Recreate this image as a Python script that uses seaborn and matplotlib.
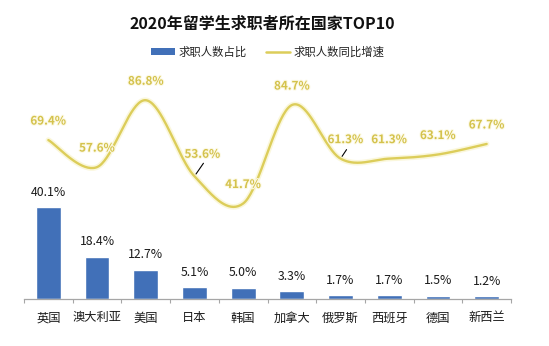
import numpy as np
import pandas as pd
import matplotlib
matplotlib.use("Agg")
import matplotlib.pyplot as plt
import matplotlib.patheffects as pe
from matplotlib.patches import Patch
from matplotlib.lines import Line2D
import seaborn as sns

countries = ["英国", "澳大利亚", "美国", "日本", "韩国", "加拿大", "俄罗斯", "西班牙", "德国", "新西兰"]
share = [40.1, 18.4, 12.7, 5.1, 5.0, 3.3, 1.7, 1.7, 1.5, 1.2]
growth = [69.4, 57.6, 86.8, 53.6, 41.7, 84.7, 61.3, 61.3, 63.1, 67.7]

BAR_COLOR = "#4170B8"
LINE_COLOR = "#DCCD5A"
GLOW_COLOR = "#F8F2C4"
LABEL_COLOR = "#D4C24C"

sns.set_theme(style="white")
plt.rcParams["font.family"] = ["Noto Sans CJK SC", "DejaVu Sans"]

fig = plt.figure(figsize=(5.49, 3.46), dpi=100)
ax = fig.add_axes([24 / 549, 47 / 346, 487 / 549, 229 / 346])

df = pd.DataFrame({"country": countries, "share": share})
sns.barplot(data=df, x="country", y="share", color=BAR_COLOR, width=0.51,
            saturation=1, ax=ax)
ax.set_xlim(-0.5, len(countries) - 0.5)
ax.set_ylim(0, 100)


def smooth(xs, ys, n=40):
    """Catmull-Rom curve through the points (Excel-style smoothed line)."""
    px = np.concatenate([[xs[0]], xs, [xs[-1]]]).astype(float)
    py = np.concatenate([[ys[0]], ys, [ys[-1]]]).astype(float)
    outx, outy = [], []
    for i in range(1, len(px) - 2):
        t = np.linspace(0, 1, n, endpoint=False)
        for p, out in ((px, outx), (py, outy)):
            p0, p1, p2, p3 = p[i - 1], p[i], p[i + 1], p[i + 2]
            c1 = p1 + (p2 - p0) / 6
            c2 = p2 - (p3 - p1) / 6
            out.extend((1 - t) ** 3 * p1 + 3 * (1 - t) ** 2 * t * c1
                       + 3 * (1 - t) * t ** 2 * c2 + t ** 3 * p2)
    outx.append(xs[-1])
    outy.append(ys[-1])
    return np.array(outx), np.array(outy)


xi = np.arange(len(countries))
sx, sy = smooth(xi, np.array(growth))
ax.plot(sx, sy, color=GLOW_COLOR, lw=4, alpha=0.6, solid_capstyle="round", zorder=3)
ax.plot(sx, sy, color=LINE_COLOR, lw=1.7, solid_capstyle="round", zorder=4)

# bar value labels
for i, v in enumerate(share):
    ax.annotate(f"{v:.1f}%", xy=(i, v), xytext=(0, 15), textcoords="offset pixels",
                ha="center", va="center", fontsize=8.8, color="#1a1a1a", zorder=5)

# growth labels; two are nudged aside and get a short leader line
offsets = {3: (8, 22), 6: (5, 19)}
leaders = {3: (9, 13), 6: (6, 9)}
glow = [pe.withStroke(linewidth=1.5, foreground="#FCF9E4")]
for i, v in enumerate(growth):
    dx, dy = offsets.get(i, (0, 19))
    ax.annotate(f"{v:.1f}%", xy=(i, v), xytext=(dx, dy), textcoords="offset pixels",
                ha="center", va="center", fontsize=8.4, fontweight="semibold",
                color=LABEL_COLOR, path_effects=glow, zorder=6)
    if i in leaders:
        ax.annotate("", xy=(i, v), xycoords="data",
                    xytext=leaders[i], textcoords="offset pixels",
                    arrowprops=dict(arrowstyle="-", color="black", lw=0.8,
                                    shrinkA=0, shrinkB=2),
                    zorder=7)

ax.set_xlabel("")
ax.set_ylabel("")
ax.set_yticks([])
for s in ("top", "right", "left"):
    ax.spines[s].set_visible(False)
ax.spines["bottom"].set_color("#A6A6A6")
ax.spines["bottom"].set_linewidth(0.9)
ax.set_xticks(xi)
ax.set_xticklabels(countries)
ax.set_xticks(np.arange(-0.5, len(countries)), minor=True)
ax.tick_params(axis="x", which="major", length=0, pad=9, labelsize=8.8, labelcolor="#1a1a1a")
ax.tick_params(axis="x", which="minor", length=3, width=0.8, color="#A6A6A6", direction="out")
ax.tick_params(axis="x", which="both", bottom=True)

fig.text(0.478, 1 - 24 / 346, "2020年留学生求职者所在国家TOP10", ha="center", va="center",
         fontsize=11.5, fontweight="bold", color="#111111")

handles = [Patch(facecolor=BAR_COLOR, edgecolor="none"),
           Line2D([0], [0], color=LINE_COLOR, lw=1.8)]
fig.legend(handles, ["求职人数占比", "求职人数同比增速"], loc="center",
           bbox_to_anchor=(0.488, 1 - 52 / 346), ncol=2, frameon=False,
           fontsize=8.2, handlelength=2.1, handleheight=0.5, handletextpad=0.3,
           columnspacing=1.7, labelcolor="#222222")

fig.savefig("out.png", dpi=100, facecolor="white")
